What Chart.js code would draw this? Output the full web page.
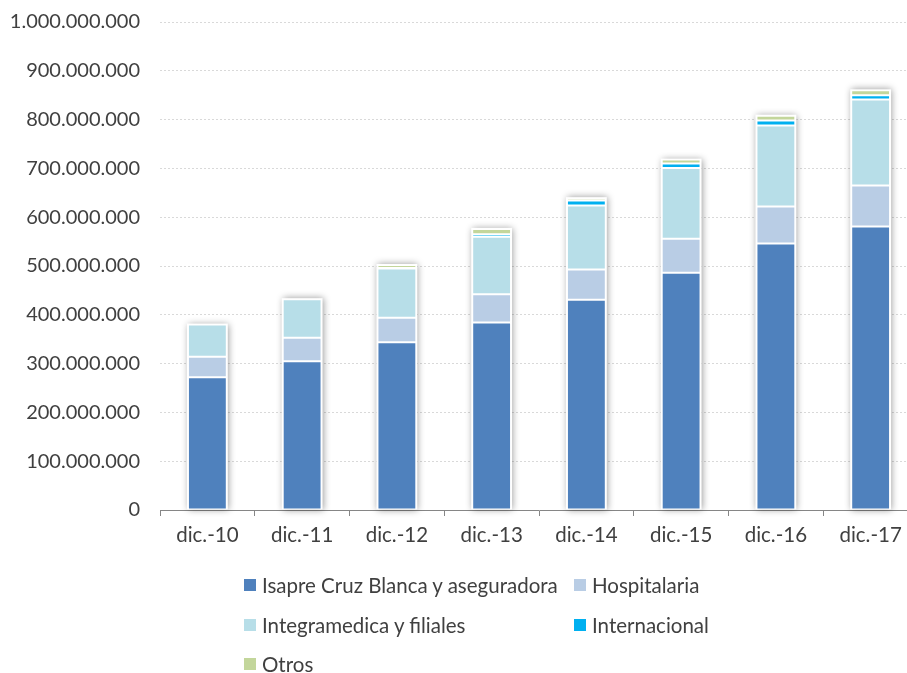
<!DOCTYPE html>
<html>
<head>
<meta charset="utf-8">
<script src="https://cdn.jsdelivr.net/npm/chart.js@4/dist/chart.umd.min.js"></script>
<style>
  html, body { margin: 0; padding: 0; background: #fff; overflow: hidden; }
  #wrap { position: relative; width: 925px; height: 673px; }
  #box { position: absolute; left: 0; top: -10px; width: 925px; height: 570px; }
  #legend { position: absolute; left: 0; top: 0; width: 907px; height: 673px; pointer-events: none;
            font-family: Lato, "Open Sans", sans-serif; font-size: 20.5px; color: #404040; }
  .item { position: absolute; display: flex; align-items: center; white-space: nowrap; height: 24px; }
  .swatch { width: 12px; height: 12px; margin-right: 6px; }
</style>
</head>
<body>
<div id="wrap">
  <div id="box"><canvas id="c"></canvas></div>
  <div id="legend"></div>
</div>
<script>
// Periods (December of each year)
const categories = ["dic.-10", "dic.-11", "dic.-12", "dic.-13", "dic.-14", "dic.-15", "dic.-16", "dic.-17"];

// Series values by business unit
const isapre        = [272e6, 305e6, 344e6, 384e6, 431e6, 486e6, 546e6, 581e6];
const hospitalaria  = [ 42e6,  48e6,  50e6,  58e6,  62e6,  70e6,  76e6,  84e6];
const integramedica = [ 66e6,  79e6, 101e6, 118e6, 131e6, 145e6, 166e6, 176e6];
const internacional = [    0,     0,   1e6,   5e6,  10e6,   9e6,  10e6,   9e6];
const otros         = [    0,     0,   6e6,  11e6,   5e6,   8e6,  10e6,  10e6];

const seriesNames = ["Isapre Cruz Blanca y aseguradora", "Hospitalaria", "Integramedica y filiales", "Internacional", "Otros"];
const seriesColors = ["#4F81BD", "#B9CDE5", "#B7DEE8", "#00B0F0", "#C3D69B"];

// Y axis range
const yMin = 0, yMax = 1e9, yStep = 1e8;

const FONT = "Lato, 'Open Sans', sans-serif";
const TEXT = "#404040";

function fmt(v) {
  return String(Math.round(v)).replace(/\B(?=(\d{3})+(?!\d))/g, ".");
}

const seriesValues = [isapre, hospitalaria, integramedica, internacional, otros];

// Soft shadow behind each whole stacked column
const columnShadow = {
  id: "columnShadow",
  beforeDatasetsDraw(chart) {
    const ctx = chart.ctx;
    const metas = chart.data.datasets.map((d, i) => chart.getDatasetMeta(i));
    ctx.save();
    for (let i = 0; i < categories.length; i++) {
      const base = metas[0].data[i];
      if (!base) continue;
      let top = base.y;
      metas.forEach(m => { const el = m.data[i]; if (el && el.y < top) top = el.y; });
      const bottom = base.base;
      const half = base.width / 2;
      ctx.shadowColor = "rgba(0,0,0,0.4)";
      ctx.shadowBlur = 7;
      ctx.shadowOffsetX = 1;
      ctx.shadowOffsetY = 0;
      ctx.fillStyle = "#ffffff";
      ctx.fillRect(base.x - half - 1, top - 1, base.width + 2, bottom - top + 1);
    }
    ctx.restore();
  }
};

const chart = new Chart(document.getElementById("c"), {
  type: "bar",
  data: {
    labels: categories,
    datasets: seriesValues.map((vals, i) => ({
      label: seriesNames[i],
      data: vals,
      backgroundColor: seriesColors[i],
      borderColor: "#ffffff",
      borderWidth: 1,
      borderSkipped: false,
      barPercentage: 0.82,
      categoryPercentage: 0.5
    }))
  },
  options: {
    responsive: true,
    maintainAspectRatio: false,
    animation: false,
    layout: { padding: { top: 11, right: 7, bottom: 0, left: 0 } },
    plugins: { legend: { display: false }, tooltip: { enabled: false } },
    scales: {
      x: {
        stacked: true,
        offset: true,
        afterFit(scale) { scale.height = 50; },
        grid: { display: true, drawOnChartArea: false, drawTicks: true, tickLength: 6, offset: true, color: "#868686" },
        border: { display: true, color: "#868686", width: 1 },
        ticks: { color: TEXT, font: { family: FONT, size: 20.5 }, padding: 7, maxRotation: 0, autoSkip: false }
      },
      y: {
        stacked: true,
        min: yMin,
        max: yMax,
        afterFit(scale) { scale.width = 160; },
        grid: { color: "#d9d9d9", drawTicks: false, lineWidth: 1 },
        border: { display: false, dash: [2, 2] },
        ticks: { stepSize: yStep, color: TEXT, font: { family: FONT, size: 20 }, padding: 20, callback: v => fmt(v) }
      }
    }
  },
  plugins: [columnShadow]
});

// Two-column legend built from the chart's datasets
const legendPos = [
  { left: 244, top: 585 }, { left: 574, top: 585 },
  { left: 244, top: 625 }, { left: 574, top: 625 },
  { left: 244, top: 664 }
];
const legend = document.getElementById("legend");
chart.data.datasets.forEach((ds, i) => {
  const it = document.createElement("div");
  it.className = "item";
  it.style.left = legendPos[i].left + "px";
  it.style.top = (legendPos[i].top - 12) + "px";
  const sw = document.createElement("span");
  sw.className = "swatch";
  sw.style.background = ds.backgroundColor;
  const tx = document.createElement("span");
  tx.textContent = ds.label;
  it.appendChild(sw);
  it.appendChild(tx);
  legend.appendChild(it);
});
</script>
</body>
</html>
